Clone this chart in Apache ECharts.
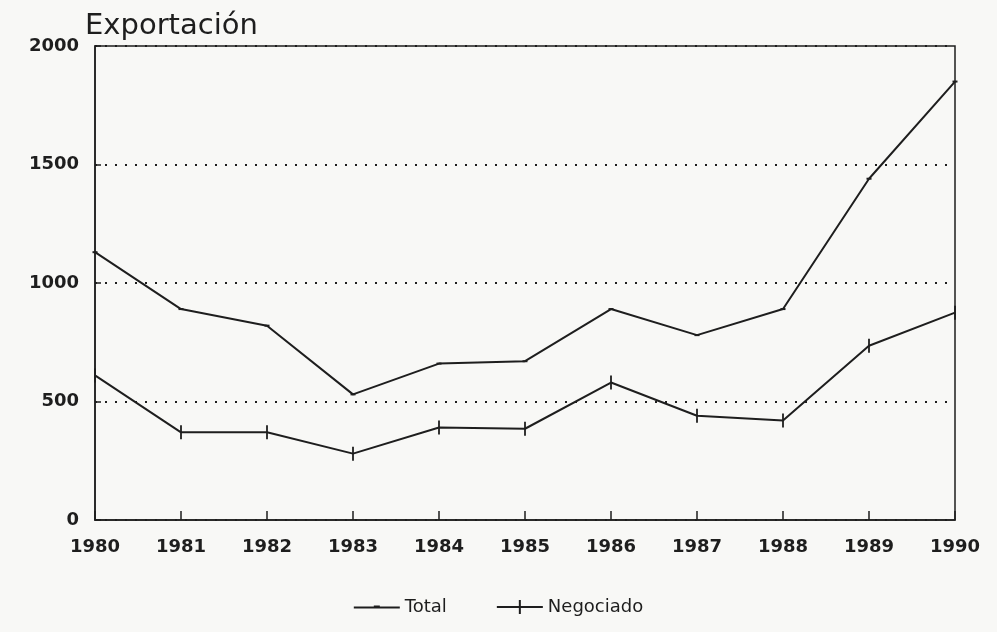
<!DOCTYPE html>
<html>
<head>
<meta charset="utf-8">
<script src="https://cdn.jsdelivr.net/npm/echarts@6/dist/echarts.min.js"></script>
<style>
html, body { margin: 0; padding: 0; background: #f8f8f6; }
#chartmain { width: 997px; height: 632px; }
</style>
</head>
<body>
<div id="chartmain"></div>
<script>
var years = ['1980', '1981', '1982', '1983', '1984', '1985', '1986', '1987', '1988', '1989', '1990'];
var total = [1130, 890, 820, 530, 660, 670, 890, 780, 890, 1440, 1850];
var negociado = [610, 370, 370, 280, 390, 385, 580, 440, 420, 735, 875];
var yTicks = [0, 500, 1000, 1500, 2000];

var ink = '#1e1e1e';
var font = 'DejaVu Sans';

// iconos de la leyenda: linea con marca
var iconTotal = 'path://M0,6L20,6L20,5L26,5L26,6L46,6L46,8L0,8Z';
var iconNeg = 'path://M0,6L22,6L22,0L24,0L24,6L46,6L46,8L24,8L24,14L22,14L22,8L0,8Z';

option = {
    backgroundColor: '#f8f8f6',
    title: {
        text: 'Exportación',
        left: 80,
        top: 7,
        textStyle: {
            color: ink,
            fontFamily: font,
            fontSize: 29,
            fontWeight: 'normal'
        }
    },
    grid: {
        left: 95,
        right: 42,
        top: 46,
        bottom: 112,
        show: true,
        borderColor: ink,
        borderWidth: 1.5,
        backgroundColor: 'transparent'
    },
    legend: {
        top: 593,
        left: 'center',
        itemWidth: 46,
        itemHeight: 14,
        itemGap: 50,
        textStyle: {
            color: ink,
            fontFamily: font,
            fontSize: 18
        },
        data: [
            { name: 'Total', icon: iconTotal },
            { name: 'Negociado', icon: iconNeg }
        ]
    },
    xAxis: {
        type: 'category',
        data: years,
        boundaryGap: false,
        axisLine: { lineStyle: { color: ink, width: 1.5 } },
        axisTick: { inside: true, length: 9, lineStyle: { color: ink, width: 1.5 } },
        axisLabel: {
            color: ink,
            fontFamily: font,
            fontSize: 18,
            fontWeight: 'bold',
            margin: 18
        }
    },
    yAxis: {
        type: 'value',
        min: yTicks[0],
        max: yTicks[yTicks.length - 1],
        interval: 500,
        axisLine: { show: true, lineStyle: { color: ink, width: 1.5 } },
        axisTick: { show: true, inside: true, length: 6, lineStyle: { color: ink, width: 1.5 } },
        axisLabel: {
            color: ink,
            fontFamily: font,
            fontSize: 18,
            fontWeight: 'bold',
            margin: 16,
            formatter: function (v) { return String(v); }
        },
        splitLine: {
            show: true,
            lineStyle: { color: ink, width: 2, type: [2, 8] }
        }
    },
    series: [
        {
            name: 'Total',
            type: 'line',
            data: total,
            symbol: 'rect',
            symbolSize: [5, 2],
            itemStyle: { color: ink },
            lineStyle: { color: ink, width: 2 }
        },
        {
            name: 'Negociado',
            type: 'line',
            data: negociado,
            symbol: 'rect',
            symbolSize: [1.8, 14],
            itemStyle: { color: ink },
            lineStyle: { color: ink, width: 2 }
        }
    ]
};

var myChart = echarts.init(document.getElementById('chartmain'));
myChart.setOption(option);
</script>
</body>
</html>
